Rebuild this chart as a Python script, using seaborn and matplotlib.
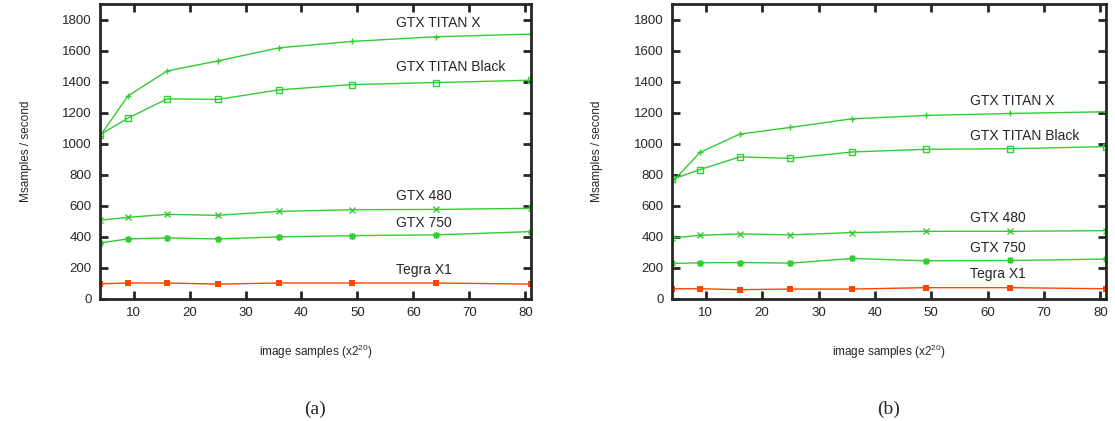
import pandas as pd
import seaborn as sns
import matplotlib.pyplot as plt

# image sizes (x2^20 samples)
samples = [4, 9, 16, 25, 36, 49, 64, 81]

series_names = ['GTX TITAN X', 'GTX TITAN Black', 'GTX 480', 'GTX 750', 'Tegra X1']

# panel (a)
a_titan_x = [1050, 1308, 1469, 1533, 1618, 1659, 1689, 1706]
a_titan_black = [1058, 1165, 1289, 1285, 1347, 1381, 1394, 1409]
a_gtx480 = [507, 526, 545, 539, 564, 575, 577, 584]
a_gtx750 = [361, 387, 393, 387, 400, 408, 413, 434]
a_tegra = [98, 103, 103, 96, 103, 103, 103, 96]

# panel (b)
b_titan_x = [752, 945, 1062, 1105, 1161, 1182, 1195, 1206]
b_titan_black = [770, 834, 915, 906, 947, 964, 968, 981]
b_gtx480 = [393, 410, 419, 413, 428, 436, 436, 440]
b_gtx750 = [229, 233, 235, 231, 261, 246, 248, 257]
b_tegra = [66, 66, 60, 64, 64, 73, 73, 66]

# label anchor values (x, y) for the series names
a_label_y = [1779, 1496, 663, 492, 188]
b_label_y = [1278, 1047, 519, 327, 160]
label_x = 56.8

sns.set_style('ticks')
plt.rcParams['font.family'] = ['Liberation Sans', 'DejaVu Sans']
plt.rcParams['mathtext.fontset'] = 'custom'
plt.rcParams['mathtext.rm'] = 'Liberation Sans'

green = '#33cc33'
red = '#ff4500'
styles = {
    'GTX TITAN X': dict(marker='+', color=green, mec=green, markersize=5, mew=1.0),
    'GTX TITAN Black': dict(marker='s', color=green, mec=green, markersize=5, mew=1.0, mfc='none'),
    'GTX 480': dict(marker='x', color=green, mec=green, markersize=4, mew=1.0),
    'GTX 750': dict(marker=(8, 2, 0), color=green, mec=green, markersize=5, mew=1.0),
    'Tegra X1': dict(marker='s', color=red, mec=red, markersize=5, mew=0),
}


def draw_panel(ax, values, label_y, tag):
    df = pd.DataFrame({'samples': samples * len(series_names),
                       'device': [n for n in series_names for _ in samples],
                       'rate': sum(values, [])})
    for name in series_names:
        sub = df[df['device'] == name]
        sns.lineplot(data=sub, x='samples', y='rate', ax=ax, lw=1.0, **styles[name])
    for name, ly in zip(series_names, label_y):
        ax.text(label_x, ly, name, fontsize=10, va='center', ha='left')

    ax.set_xlim(4, 81)
    ax.set_ylim(0, 1900)
    ax.set_xticks(range(10, 81, 10))
    ax.set_yticks(range(0, 1801, 200))
    ax.tick_params(direction='in', length=6, width=2, top=True, right=True,
                   labelsize=9.5, pad=6)
    for sp in ax.spines.values():
        sp.set_linewidth(2)
        sp.set_visible(True)
    ax.set_xlabel('image samples (x2$^{20}$)', fontsize=8.5, labelpad=17)
    ax.set_ylabel('Msamples / second', fontsize=8.5, labelpad=22)
    ax.text(0.5, -0.375, tag, transform=ax.transAxes, ha='center', va='center',
            fontsize=14, family=['Liberation Serif', 'DejaVu Serif'])


fig = plt.figure(figsize=(11.15, 4.21), dpi=100)
ax1 = fig.add_axes([0.0897, 0.2898, 0.3865, 0.7007])
ax2 = fig.add_axes([0.6027, 0.2898, 0.3892, 0.7007])

draw_panel(ax1, [a_titan_x, a_titan_black, a_gtx480, a_gtx750, a_tegra], a_label_y, '(a)')
draw_panel(ax2, [b_titan_x, b_titan_black, b_gtx480, b_gtx750, b_tegra], b_label_y, '(b)')

fig.savefig('out.png', dpi=100)
